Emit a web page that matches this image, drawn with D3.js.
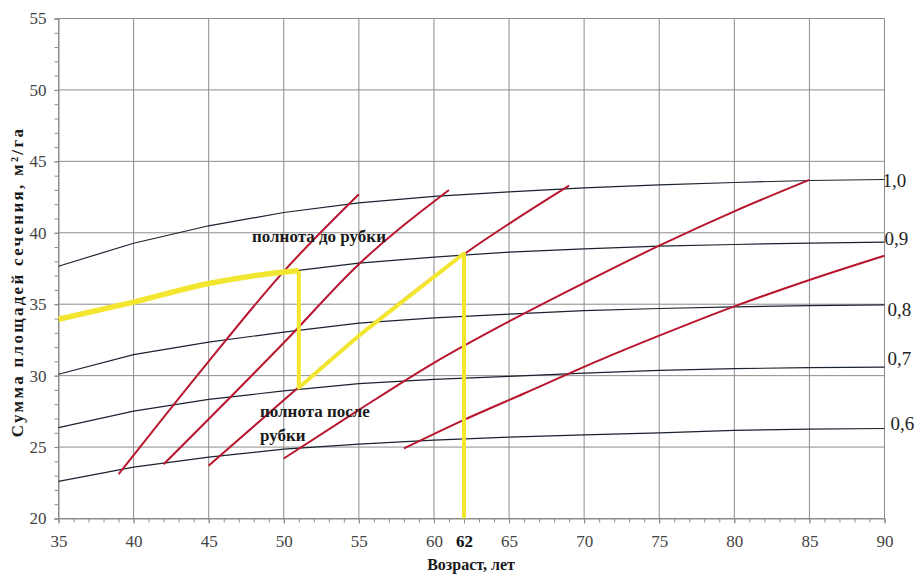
<!DOCTYPE html>
<html>
<head>
<meta charset="utf-8">
<script src="https://cdn.jsdelivr.net/npm/d3@7"></script>
<style>
  html, body { margin: 0; padding: 0; background: #fff; }
  svg { display: block; }
  text { font-family: "Liberation Serif", "DejaVu Serif", serif; }
</style>
</head>
<body>
<svg id="chart" width="918" height="575"></svg>
<script>
// ---------- DATA ----------
const ages = [35, 40, 45, 50, 55, 60, 65, 70, 75, 80, 85, 90];
const density10 = [37.66, 39.27, 40.49, 41.42, 42.1, 42.55, 42.86, 43.15, 43.36, 43.52, 43.66, 43.73];
const density09 = [33.95, 35.15, 36.45, 37.25, 37.87, 38.3, 38.65, 38.88, 39.06, 39.18, 39.28, 39.35];
const density08 = [30.1, 31.47, 32.35, 33.05, 33.68, 34.05, 34.3, 34.55, 34.7, 34.82, 34.9, 34.95];
const density07 = [26.36, 27.52, 28.34, 28.93, 29.44, 29.74, 29.95, 30.18, 30.37, 30.49, 30.56, 30.6];
const density06 = [22.6, 23.6, 24.3, 24.85, 25.2, 25.48, 25.7, 25.85, 26.0, 26.17, 26.25, 26.3];
const densityLabels = ["1,0", "0,9", "0,8", "0,7", "0,6"];

// growth (red) lines
const growthA_age = [39, 45, 50, 55];
const growthA_val = [23.1, 31.0, 37.3, 42.7];
const growthB_age = [42, 50, 55, 61];
const growthB_val = [23.8, 32.3, 37.8, 43.0];
const growthC_age = [45, 51, 55, 62, 69];
const growthC_val = [23.7, 29.2, 32.8, 38.5, 43.3];
const growthD_age = [50, 55, 60, 65, 70, 75, 80, 85];
const growthD_val = [24.2, 27.6, 30.9, 33.8, 36.5, 39.1, 41.5, 43.7];
const growthE_age = [58, 62, 66, 71, 75, 80, 85, 90];
const growthE_val = [24.9, 26.9, 28.75, 31.07, 32.8, 34.85, 36.7, 38.4];

// thinning scheme (yellow)
const beforeCut_age = [35, 40, 45, 50, 51];
const beforeCut_val = [33.95, 35.15, 36.45, 37.25, 37.35];
const cut1_age = 51;
const cut1_from = 37.35, cut1_to = 29.15;
const afterCut_age = [51, 55, 62];
const afterCut_val = [29.15, 32.8, 38.55];
const cut2_age = 62;
const cut2_from = 38.55, cut2_to = 20;

const xMajorTicks = [35, 40, 45, 50, 55, 60, 65, 70, 75, 80, 85, 90];
const xSpecialTick = 62;
const yMajorTicks = [20, 25, 30, 35, 40, 45, 50, 55];

const yTitle = "Сумма площадей сечения, м²/га";
const xTitle = "Возраст, лет";
const noteBefore = "полнота до рубки";
const noteAfter1 = "полнота после";
const noteAfter2 = "рубки";

// ---------- LAYOUT ----------
const svg = d3.select("#chart");
const x = d3.scaleLinear().domain([35, 90]).range([58.5, 884.5]);
const y = d3.scaleLinear().domain([20, 55]).range([518.5, 18.5]);

const gridColor = "#8c8c8c";

// grid
const grid = svg.append("g");
grid.selectAll("line.v").data(xMajorTicks).join("line")
  .attr("x1", d => x(d)).attr("x2", d => x(d))
  .attr("y1", y(20)).attr("y2", y(55))
  .attr("stroke", gridColor).attr("stroke-width", 1);
grid.selectAll("line.h").data(yMajorTicks).join("line")
  .attr("x1", x(35)).attr("x2", x(90))
  .attr("y1", d => y(d)).attr("y2", d => y(d))
  .attr("stroke", gridColor).attr("stroke-width", 1);

// axes: minor ticks
const xMinor = svg.append("g").attr("transform", `translate(0,${y(20)})`)
  .call(d3.axisBottom(x).tickValues(d3.range(35, 91, 1)).tickSize(4).tickFormat(""));
const yMinor = svg.append("g").attr("transform", `translate(${x(35)},0)`)
  .call(d3.axisLeft(y).tickValues(d3.range(20, 56, 1)).tickSize(4).tickFormat(""));
[xMinor, yMinor].forEach(g => {
  g.select(".domain").attr("stroke", gridColor);
  g.selectAll(".tick line").attr("stroke", gridColor);
});

// major labels
const xAx = svg.append("g").attr("transform", `translate(0,${y(20)})`)
  .call(d3.axisBottom(x).tickValues(xMajorTicks.concat([xSpecialTick])).tickSize(5).tickPadding(11).tickFormat(d3.format("d")));
xAx.select(".domain").remove();
xAx.selectAll(".tick line").attr("stroke", gridColor);
xAx.selectAll(".tick text")
  .attr("font-family", "'Liberation Serif', serif")
  .attr("font-size", 17)
  .attr("font-weight", d => d === xSpecialTick ? "bold" : "normal")
  .attr("fill", d => d === xSpecialTick ? "#111" : "#444");

const yAx = svg.append("g").attr("transform", `translate(${x(35)},0)`)
  .call(d3.axisLeft(y).tickValues(yMajorTicks).tickSize(4).tickPadding(8).tickFormat(d3.format("d")));
yAx.select(".domain").remove();
yAx.selectAll(".tick line").attr("stroke", gridColor);
yAx.selectAll(".tick text")
  .attr("font-family", "'Liberation Serif', serif")
  .attr("font-size", 17)
  .attr("fill", "#444");

// density curves (black)
const densities = [density10, density09, density08, density07, density06];
const blackLine = d3.line().x(d => x(d[0])).y(d => y(d[1])).curve(d3.curveLinear);
densities.forEach(vals => {
  svg.append("path")
    .datum(ages.map((a, i) => [a, vals[i]]))
    .attr("d", blackLine)
    .attr("fill", "none")
    .attr("stroke", "#1a2330")
    .attr("stroke-width", 1.2);
});

// density labels
const labDx = [-2, 0, 3, 3, 6];
const labDy = [1, -4, 4, -9, -5];
densities.forEach((vals, i) => {
  svg.append("text")
    .attr("x", x(90) + labDx[i])
    .attr("y", y(vals[vals.length - 1]) + labDy[i])
    .attr("dy", "0.35em")
    .attr("font-size", 19)
    .attr("fill", "#222")
    .text(densityLabels[i]);
});

// growth lines (red)
const growth = [
  [growthA_age, growthA_val],
  [growthB_age, growthB_val],
  [growthC_age, growthC_val],
  [growthD_age, growthD_val],
  [growthE_age, growthE_val]
];
const redLine = d3.line().x(d => x(d[0])).y(d => y(d[1])).curve(d3.curveMonotoneX);
growth.forEach(([ag, vl]) => {
  svg.append("path")
    .datum(ag.map((a, i) => [a, vl[i]]))
    .attr("d", redLine)
    .attr("fill", "none")
    .attr("stroke", "#b8162f")
    .attr("stroke-width", 2);
});

// yellow thinning scheme
const yellow = "#f3e630";
svg.append("path")
  .datum(beforeCut_age.map((a, i) => [a, beforeCut_val[i]]))
  .attr("d", d3.line().x(d => x(d[0])).y(d => y(d[1])).curve(d3.curveMonotoneX))
  .attr("fill", "none").attr("stroke", yellow).attr("stroke-width", 5.5)
  .attr("stroke-linecap", "butt");
const afterPts = [[cut1_age, cut1_from], [cut1_age, cut1_to]]
  .concat(afterCut_age.slice(1).map((a, i) => [a, afterCut_val[i + 1]]))
  .concat([[cut2_age, cut2_to]]);
svg.append("path")
  .datum(afterPts)
  .attr("d", d3.line().x(d => x(d[0])).y(d => y(d[1])))
  .attr("fill", "none").attr("stroke", yellow).attr("stroke-width", 4)
  .attr("stroke-linejoin", "round");

// annotations
svg.append("text").attr("x", 252).attr("y", 242)
  .attr("font-size", 17).attr("font-weight", "bold").attr("fill", "#1a1a1a")
  .text(noteBefore);
svg.append("text").attr("x", 260).attr("y", 417)
  .attr("font-size", 17).attr("font-weight", "bold").attr("fill", "#1a1a1a")
  .text(noteAfter1);
svg.append("text").attr("x", 260).attr("y", 441)
  .attr("font-size", 17).attr("font-weight", "bold").attr("fill", "#1a1a1a")
  .text(noteAfter2);

// axis titles
svg.append("text").attr("x", 471).attr("y", 570)
  .attr("text-anchor", "middle")
  .attr("font-size", 16).attr("font-weight", "bold").attr("fill", "#1a1a1a")
  .text(xTitle);
svg.append("text")
  .attr("transform", "translate(23,282) rotate(-90)")
  .attr("text-anchor", "middle")
  .attr("font-size", 17).attr("font-weight", "bold").attr("fill", "#1a1a1a")
  .attr("letter-spacing", "2.3px")
  .text(yTitle);
</script>
</body>
</html>
